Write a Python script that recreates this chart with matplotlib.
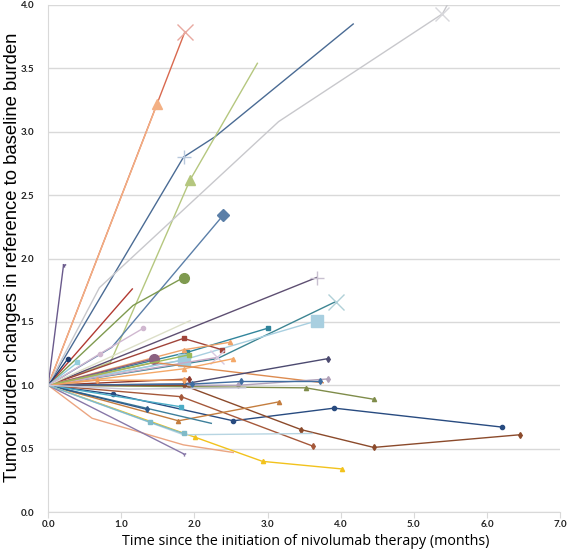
import numpy as np
import matplotlib.pyplot as plt

# months since start of nivolumab, one list per patient (all start at 0)
times = [
    [0, 1.87],
    [0, 1.49],
    [0, 1.85, 2.28, 4.17],
    [0, 0.85, 1.94, 2.86],
    [0, 0.70, 3.15, 5.39, 5.55],
    [0, 0.87, 2.39],
    [0, 1.16, 1.85],
    [0, 1.15],
    [0, 0.21],
    [0, 3.67],
    [0, 2.31, 3.93],
    [0, 1.85, 3.68],
    [0, 1.90, 3.00],
    [0, 1.85, 2.38],
    [0, 1.85, 2.49],
    [0, 1.45],
    [0, 1.85],
    [0, 2.31],
    [0, 1.85, 2.53],
    [0, 1.45, 3.76],
    [0, 2.60, 3.82],
    [0, 1.85, 3.82],
    [0, 3.52, 4.45],
    [0, 0.89, 2.53, 3.91, 6.21],
    [0, 1.85, 3.46, 4.45, 6.45],
    [0, 1.82, 3.62],
    [0, 1.78, 3.16],
    [0, 2.23],
    [0, 1.82],
    [0, 1.35],
    [0, 2.01, 2.93, 4.02],
    [0, 1.85, 3.61],
    [0, 0.60, 1.85, 2.53],
    [0, 1.85],
    [0, 1.39, 1.85],
    [0, 1.94],
    [0, 1.92],
    [0, 1.93],
    [0, 1.97, 2.64, 3.72],
    [0, 0.27],
    [0, 0.67, 1.85],
    [0, 0.40],
    [0, 0.71, 1.30],
    [0, 1.10, 2.70],
]

# tumour burden relative to baseline, same order as times
ratios = [
    [1, 3.79],
    [1, 3.22],
    [1, 2.80, 2.96, 3.85],
    [1, 1.18, 2.62, 3.54],
    [1, 1.77, 3.08, 3.93, 4.10],
    [1, 1.30, 2.34],
    [1, 1.63, 1.85],
    [1, 1.76],
    [1, 1.95],
    [1, 1.85],
    [1, 1.21, 1.66],
    [1, 1.20, 1.51],
    [1, 1.26, 1.45],
    [1, 1.37, 1.28],
    [1, 1.28, 1.34],
    [1, 1.21],
    [1, 1.20],
    [1, 1.22],
    [1, 1.13, 1.21],
    [1, 1.18, 1.02],
    [1, 1.00, 1.05],
    [1, 1.01, 1.21],
    [1, 0.98, 0.89],
    [1, 0.93, 0.72, 0.82, 0.67],
    [1, 1.00, 0.65, 0.51, 0.61],
    [1, 0.91, 0.52],
    [1, 0.72, 0.87],
    [1, 0.70],
    [1, 0.83],
    [1, 0.81],
    [1, 0.59, 0.40, 0.34],
    [1, 0.61, 0.62],
    [1, 0.74, 0.53, 0.47],
    [1, 0.46],
    [1, 0.71, 0.62],
    [1, 1.51],
    [1, 1.24],
    [1, 1.05],
    [1, 1.01, 1.03, 1.03],
    [1, 1.21],
    [1, 1.04, 1.04],
    [1, 1.18],
    [1, 1.25, 1.45],
    [1, 0.97, 0.98],
]

colors = [
    '#d9694f', '#f3b084', '#4a6b94', '#b5c77f', '#c8c8cc', '#5b7fa8',
    '#7f9a4f', '#b23a32', '#6a5a8c', '#5e4f72', '#3d8593', '#a8cfe0',
    '#31859c', '#a0443a', '#eea36a', '#8a6080', '#9fcbdd', '#c9a9c6',
    '#f4a868', '#dd8b50', '#b0a0b8', '#4c4a70', '#7f8c4a', '#284b80',
    '#8b4a2b', '#a5583a', '#c47d3e', '#3d7f9a', '#4bacc6', '#2f5a8a',
    '#f2c21c', '#b7d5e2', '#eba581', '#8878a8', '#7fbac8', '#dcdfc8',
    '#9bbb59', '#8c3a30', '#3f6da0', '#1f3f70', '#f0a060', '#92cddc',
    '#d0b8d0', '#c8c8d8',
]
markers = [
    'x', '^', '+', '^', 'x', 'D', 'o', '', '1', '+', 'x', 's',
    's', 's', '^', 'o', 's', 'x', '^', '', 'd', 'd', '^', 'o',
    'd', 'd', '^', '', 's', 'd', '^', '', '', '1', 's', '',
    's', 'd', 'd', 'o', 'd', 's', 'o', '',
]
# (marker size, which points get a marker)
big = {0: (12, [1]), 1: (7, [1]), 2: (10, [1]), 3: (7, [2]), 4: (10, [3]),
       5: (6, [2]), 6: (7, [2]), 9: (10, [1]), 10: (12, [2]), 11: (8, [2]),
       15: (7, [1]), 16: (9, [1]), 17: (10, [1])}
light = {0: '#e8a9a0', 2: '#b8c8dc', 4: '#d8d8dc', 9: '#c8c0d0', 10: '#b0d0d8',
         17: '#d8c8e0'}

fig = plt.figure(figsize=(5.67, 5.53), dpi=100)
ax = fig.add_axes([0.085, 0.074, 0.903, 0.917])

for i, (t, r) in enumerate(zip(times, ratios)):
    ms, every = big.get(i, (3, slice(1, None)))
    ax.plot(t, r, color=colors[i], lw=1.0, marker=markers[i] or None,
            markersize=ms, markevery=every, markeredgewidth=1.0,
            markeredgecolor=light.get(i, colors[i]))

ax.set_xlim(0, 7)
ax.set_ylim(0, 4)
ax.set_xticks(np.arange(0, 7.1, 1))
ax.set_yticks(np.arange(0, 4.01, 0.5))
ax.set_xticklabels(['%.1f' % v for v in np.arange(0, 7.1, 1)])
ax.set_yticklabels(['%.1f' % v for v in np.arange(0, 4.01, 0.5)])
ax.yaxis.grid(True, color='#d9d9d9', lw=1.0)
ax.set_axisbelow(True)
for s in ['top', 'right']:
    ax.spines[s].set_visible(False)
for s in ['left', 'bottom']:
    ax.spines[s].set_color('#d9d9d9')
ax.tick_params(axis='x', length=4, color='#d9d9d9', labelsize=7, pad=2)
ax.tick_params(axis='y', length=0, labelsize=7, pad=10)
for lab in ax.get_xticklabels() + ax.get_yticklabels():
    lab.set_fontweight('bold')
    lab.set_family('Lato')
    lab.set_color('#222222')

fig.text(0.54, 0.021, 'Time since the initiation of nivolumab therapy (months)',
         fontsize=10.3, family='Open Sans', ha='center', va='center')
fig.text(0.022, 0.535, 'Tumor burden changes in reference to baseline burden',
         fontsize=13.3, family='Liberation Sans', rotation=90,
         ha='center', va='center')

plt.savefig('out.png', dpi=100)
